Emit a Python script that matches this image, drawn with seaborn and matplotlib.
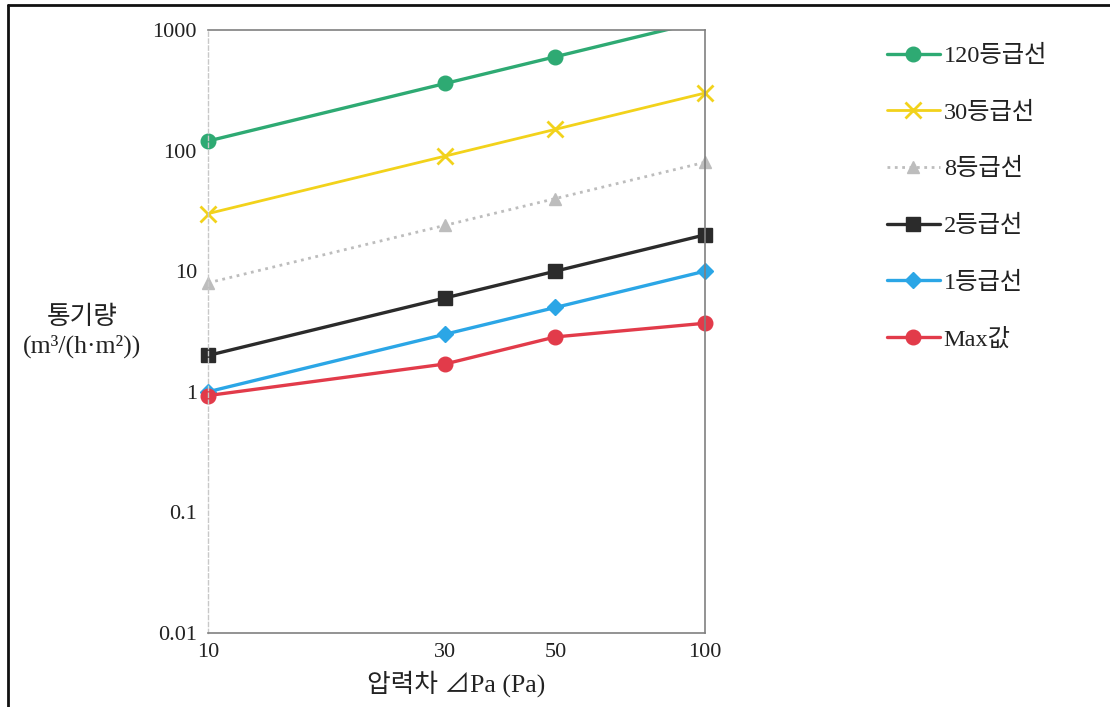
import matplotlib
matplotlib.use("Agg")
import matplotlib.pyplot as plt
import seaborn as sns
import numpy as np
from matplotlib.patches import Rectangle
from matplotlib.lines import Line2D

sns.set_theme(style="white")
plt.rcParams['font.family'] = ['Liberation Serif', 'Noto Sans CJK KR', 'DejaVu Sans']

# data
pressure = [10, 30, 50, 100]
grade_120 = [120, 360, 600, 1200]
grade_30 = [30, 90, 150, 300]
grade_8 = [8, 24, 40, 80]
grade_2 = [2, 6, 10, 20]
grade_1 = [1, 3, 5, 10]
max_val = [0.93, 1.7, 2.85, 3.7]

series = [
    ("120등급선", grade_120, "#2eaa73", "o", "-", 2.4, 10.5),
    ("30등급선", grade_30, "#f2d21b", "x", "-", 2.0, 11),
    ("8등급선", grade_8, "#bdbdbd", "^", ":", 2.0, 9),
    ("2등급선", grade_2, "#2b2b2b", "s", "-", 2.4, 10),
    ("1등급선", grade_1, "#2ba6e6", "D", "-", 2.4, 8),
    ("Max값", max_val, "#e23b4a", "o", "-", 2.4, 10.5),
]

fig = plt.figure(figsize=(11.1, 7.07), dpi=100)
ax = fig.add_axes([0.1874, 0.1047, 0.4477, 0.8529])

for name, vals, col, mk, ls, lw, ms in series:
    sns.lineplot(x=pressure, y=vals, ax=ax, color=col, marker=mk, linestyle=ls,
                 linewidth=lw, markersize=ms, markeredgecolor=col,
                 markeredgewidth=2 if mk == "x" else 1, label=name)
    line = ax.lines[-1]
    # let markers overflow the sides, but cut the line at the top
    clip = Rectangle((-0.05, -0.05), 1.1, 1.05, transform=ax.transAxes)
    line.set_clip_path(clip)

ax.set_xscale("log")
ax.set_yscale("log")
ax.set_xlim(10, 100)
ax.set_ylim(0.01, 1000)
ax.set_xticks(pressure)
ax.set_xticklabels([str(p) for p in pressure])
yt = [0.01, 0.1, 1, 10, 100, 1000]
ax.set_yticks(yt)
ax.set_yticklabels(["0.01", "0.1", "1", "10", "100", "1000"])
ax.minorticks_off()
ax.tick_params(axis="both", length=0, labelsize=16, colors="#222222")
ax.tick_params(axis="x", pad=7)
ax.tick_params(axis="y", pad=8)

for side in ["top", "right", "bottom"]:
    ax.spines[side].set_color("#808080")
    ax.spines[side].set_linewidth(1.2)
ax.spines["left"].set_color("#c8c8c8")
ax.spines["left"].set_linestyle((0, (3, 2)))
ax.spines["left"].set_linewidth(1)

ax.set_xlabel("압력차 ⊿Pa (Pa)", fontsize=18.5, color="#222222", labelpad=6)
ax.set_ylabel("")
fig.text(0.074, 0.531, "통기량\n(m³/(h·m²))", ha="center", va="center",
         fontsize=18.5, color="#222222", linespacing=1.3)

leg = ax.legend(loc="upper left", bbox_to_anchor=(0.779, 0.967),
                bbox_transform=fig.transFigure, frameon=False, fontsize=17.5,
                handlelength=2.2, labelspacing=1.42, handletextpad=0.15)
for t in leg.get_texts():
    t.set_color("#222222")

# outer page border
fig.add_artist(Line2D([0.007, 0.007], [0, 0.993], color="#111111", lw=2, transform=fig.transFigure))
fig.add_artist(Line2D([0.007, 1], [0.993, 0.993], color="#111111", lw=2, transform=fig.transFigure))

fig.savefig("out.png", dpi=100)
